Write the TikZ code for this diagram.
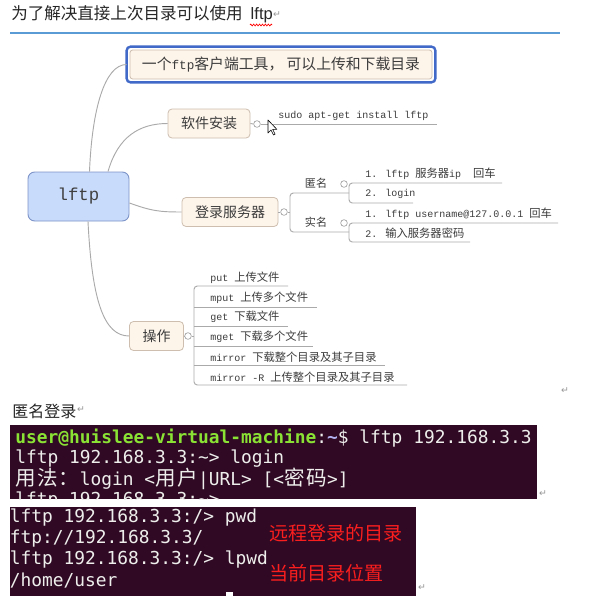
\documentclass[tikz,border=0pt]{standalone}
\usepackage{fontspec}
\usetikzlibrary{calc,decorations.pathmorphing}
\newfontfamily\cjk{Noto Sans CJK SC}
\newfontfamily\cjkm[Scale=1.13]{Noto Sans CJK SC}
\newfontfamily\cjkt[Scale=1.17]{Noto Sans CJK SC}
\newfontfamily\mono{Liberation Mono}
\newfontfamily\sansf{Liberation Sans}
\newfontfamily\term{DejaVu Sans Mono}
\newfontfamily\tcjk[Scale=1.15]{Noto Sans CJK SC}
\newfontfamily\symf{DejaVu Sans}
\newcommand\tcell[1]{\makebox[16.13pt]{\tcjk #1}}
\definecolor{boxfill}{RGB}{253,244,234}
\definecolor{boxline}{RGB}{205,190,175}
\definecolor{linegray}{RGB}{170,170,170}
\definecolor{knobgray}{RGB}{160,160,160}
\definecolor{txt}{RGB}{60,60,60}
\definecolor{rootfill}{RGB}{200,219,250}
\definecolor{rootline}{RGB}{125,148,200}
\definecolor{topblue}{RGB}{65,105,200}
\definecolor{titleblue}{RGB}{91,155,213}
\definecolor{termbg}{RGB}{48,10,36}
\definecolor{termgreen}{RGB}{138,226,52}
\definecolor{termtxt}{RGB}{238,238,236}
\definecolor{redtxt}{RGB}{250,30,30}
\definecolor{retgray}{RGB}{150,150,150}
\tikzset{
  conn/.style={draw=linegray, line width=0.7pt},
  branch/.style={draw=boxline, fill=boxfill, rounded corners=3pt, line width=0.6pt,
    font=\cjk\fontsize{10.5}{12}\selectfont, text=txt, inner xsep=9.75pt, inner ysep=0pt,
    minimum height=21.75pt},
  knob/.style={circle, draw=knobgray, fill=white, line width=0.5pt, minimum size=5pt, inner sep=0pt},
  leaf/.style={anchor=west, inner sep=0pt, font=\mono\fontsize{7.5}{9}\selectfont, text=txt},
  subtopic/.style={inner sep=0pt, font=\cjk\fontsize{8.3}{10}\selectfont, text=txt},
  termline/.style={anchor=west, inner sep=0pt, font=\term\fontsize{13.4}{16}\selectfont, text=termtxt},
  redlabel/.style={anchor=west, inner sep=0pt, font=\cjk\fontsize{14.3}{16}\selectfont, text=redtxt},
  ret/.style={inner sep=0pt, font=\symf\fontsize{7}{8}\selectfont, text=retgray},
}
\begin{document}
\begin{tikzpicture}[x=0.75pt,y=-0.75pt]
\useasboundingbox (0,0) rectangle (589,596);
\fill[white] (0,0) rectangle (589,596);

% ---- title ----
\node[anchor=west, inner sep=0pt, font=\cjk\fontsize{12.4}{14}\selectfont, text=black!85] (title) at (11,14.5)
  {为了解决直接上次目录可以使用\hspace{6pt}{\sansf lftp}};
\node[ret] (ret0) at (277,14.5) {↵};
\coordinate (sq0) at (250,25);
\coordinate (sq1) at (272,25);
\draw[red, line width=0.5pt, decorate, decoration={zigzag, segment length=2.2pt, amplitude=0.7pt}] (sq0) -- (sq1);
\coordinate (hl0) at (10,33);
\coordinate (hl1) at (560,33);
\draw[titleblue, line width=1.2pt] (hl0) -- (hl1);

% ---- mind map ----
\node[draw=rootline, fill=rootfill, rounded corners=5pt, line width=0.7pt, minimum width=75.75pt,
  minimum height=36.75pt, font=\mono\fontsize{13}{15}\selectfont, text=black!75] (root) at (78.5,196.5) {lftp};

\node[draw=boxline, fill=boxfill, rounded corners=2pt, line width=0.6pt, minimum width=226.5pt,
  minimum height=21.75pt, inner sep=0pt, font=\mono\fontsize{9.5}{11}\selectfont, text=txt] (top) at (281,64.5)
  {{\cjkt 一个}ftp{\cjkt 客户端工具，\ 可以上传和下载目录}};
\draw[topblue, line width=1.8pt, rounded corners=3pt] ($(top.north west)+(-3,-3)$) rectangle ($(top.south east)+(3,3)$);

\node[branch] (soft) at (209,123.5) {软件安装};
\node[branch] (login) at (230,212) {登录服务器};
\node[branch] (ops) at (156.5,336) {操作};

\draw[conn] ($(root.north)+(11,0)$) .. controls +(2.5,-62) and +(-22,0) .. ($(top.west)+(-3,0)$);
\draw[conn] ($(root.north)+(29.5,0)$) .. controls +(10,-35) and +(-28,0) .. (soft.west);
\draw[conn] ($(root.east)+(0,6.5)$) .. controls +(22,8) and +(-22,0) .. (login.west);
\draw[conn] ($(root.south)+(9.5,0)$) .. controls +(4,80) and +(-25,0) .. (ops.west);

% soft install branch
\node[knob] (k1) at (257,124) {};
\draw[conn] (soft.east) -- (k1.west);
\coordinate (sudoend) at (437,124);
\draw[conn] (k1.east) -- (sudoend);
\node[leaf] (sudo) at (278,116) {sudo apt-get install lftp};
\coordinate (cur) at (268,120);
\draw[black, fill=white, line width=0.45pt, line join=round] (cur) -- ++(0,13) -- ++(3,-3) -- ++(2.5,5) -- ++(1.6,-0.8) -- ++(-2.4,-4.8) -- ++(4.2,0) -- cycle;

% login branch
\node[knob] (k2) at (284,212) {};
\draw[conn] (login.east) -- (k2.west);
\coordinate (lb) at (290,212);
\coordinate (anonj) at (349,193);
\coordinate (realj) at (349,232);
\coordinate (lbbot) at (290,232);
\draw[conn] (k2.east) -- (lb);
\draw[conn, rounded corners=2.5pt] (anonj) -| (lbbot) -- (realj);
\node[subtopic] (anon) at (316,183) {匿名};
\node[subtopic] (real) at (316,222.5) {实名};
\node[knob] (k4) at (344,184) {};
\node[knob] (k5) at (344,223) {};
\coordinate (a1e) at (502,183);
\coordinate (a2s) at (349,203);
\coordinate (a2e) at (413,203);
\draw[conn, rounded corners=2.5pt] (a1e) -| (a2s) -- (a2e);
\coordinate (r1e) at (558,223);
\coordinate (r2s) at (349,242);
\coordinate (r2e) at (470,242);
\draw[conn, rounded corners=2.5pt] (r1e) -| (r2s) -- (r2e);
\node[leaf] (a1) at (365,174) {1. lftp {\cjkm 服务器}ip\ \ {\cjkm 回车}};
\node[leaf] (a2) at (365,194) {2. login};
\node[leaf] (r1) at (365,214) {1. lftp username@127.0.0.1 {\cjkm 回车}};
\node[leaf] (r2) at (365,233) {2. {\cjkm 输入服务器密码}};

% operations branch
\node[knob] (k3) at (188,336) {};
\draw[conn] (ops.east) -- (k3.west);
\coordinate (ob) at (194,336);
\draw[conn] (k3.east) -- (ob);
\coordinate (o1) at (288,286);
\coordinate (o6s) at (194,385);
\coordinate (o6) at (407,385);
\draw[conn, rounded corners=2.5pt] (o1) -| (o6s) -- (o6);
\draw[conn] (194,307) coordinate (o2s) -- (317,307) coordinate (o2);
\draw[conn] (194,326) coordinate (o3s) -- (288,326) coordinate (o3);
\draw[conn] (194,346) coordinate (o4s) -- (313,346) coordinate (o4);
\draw[conn] (194,365) coordinate (o5s) -- (385,365) coordinate (o5);
\node[leaf] (put) at (210,278) {put {\cjkm 上传文件}};
\node[leaf] (mput) at (210,298) {mput {\cjkm 上传多个文件}};
\node[leaf] (get) at (210,317) {get {\cjkm 下载文件}};
\node[leaf] (mget) at (210,337) {mget {\cjkm 下载多个文件}};
\node[leaf] (mirror) at (210,357) {mirror {\cjkm 下载整个目录及其子目录}};
\node[leaf] (mirrorR) at (210,377) {mirror -R {\cjkm 上传整个目录及其子目录}};

\node[ret] (ret1) at (565,391) {↵};

% ---- anonymous login ----
\node[anchor=west, inner sep=0pt, font=\cjk\fontsize{12}{14}\selectfont, text=black!85] (anonlogin) at (12,411) {匿名登录};
\node[ret] (ret2) at (81,410) {↵};

% terminal 1
\fill[termbg] (10,425) rectangle (537,499);
\begin{scope}
\clip (10,425) rectangle (537,499);
\node[termline] (t1) at (15,438) {{\bfseries\color{termgreen}user@huislee-virtual-machine}:{\bfseries\color{termtxt!75!blue}\textasciitilde}\$ lftp 192.168.3.3};
\node[termline] (t2) at (15,459) {lftp 192.168.3.3:\textasciitilde> login};
\node[termline] (t3) at (15,479) {\tcell{用}\tcell{法}\tcell{：}login <\tcell{用}\tcell{户}|URL> [<\tcell{密}\tcell{码}>]};
\node[termline] (t4) at (15,501) {lftp 192.168.3.3:\textasciitilde> };
\end{scope}
\node[ret] (ret3) at (543,494) {↵};

% terminal 2
\fill[termbg] (10,507) rectangle (416,596);
\begin{scope}
\clip (10,507) rectangle (416,596);
\node[termline] (u1) at (9.5,518) {lftp 192.168.3.3:/> pwd};
\node[termline] (u2) at (9.5,539) {ftp://192.168.3.3/};
\node[termline] (u3) at (9.5,560) {lftp 192.168.3.3:/> lpwd};
\node[termline] (u4) at (9.5,581) {/home/user};
\fill[white] (226,592) rectangle (233,596);
\end{scope}
\node[redlabel] (remote) at (269,533) {远程登录的目录};
\node[redlabel] (local) at (269,573) {当前目录位置};
\node[ret] (ret4) at (422,588) {↵};
\end{tikzpicture}
\end{document}
